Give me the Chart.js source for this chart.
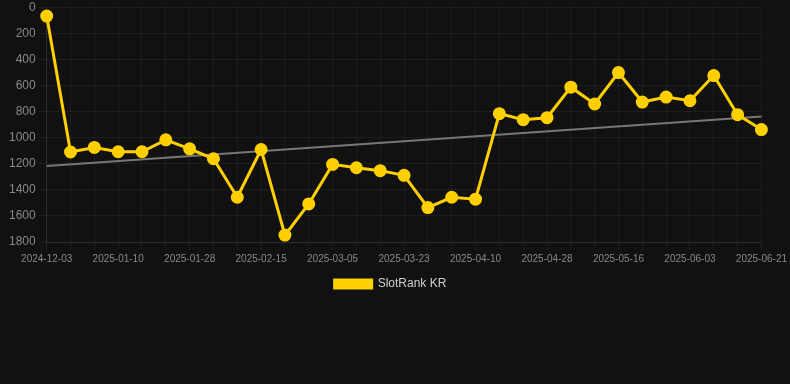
<!DOCTYPE html>
<html>
<head>
<meta charset="utf-8">
<script src="https://cdn.jsdelivr.net/npm/chart.js@4"></script>
<style>
html,body{margin:0;padding:0;background:#111111;overflow:hidden;}
#wrap{width:790px;height:303px;position:relative;margin-top:-3px;}
</style>
</head>
<body>
<div id="wrap"><canvas id="c"></canvas></div>
<script>
const categories = [
  "2024-12-03","2024-12-29","2025-01-04","2025-01-10","2025-01-16","2025-01-22",
  "2025-01-28","2025-02-03","2025-02-09","2025-02-15","2025-02-21","2025-02-27",
  "2025-03-05","2025-03-11","2025-03-17","2025-03-23","2025-03-29","2025-04-04",
  "2025-04-10","2025-04-16","2025-04-22","2025-04-28","2025-05-04","2025-05-10",
  "2025-05-16","2025-05-22","2025-05-28","2025-06-03","2025-06-09","2025-06-15",
  "2025-06-21"
];
const rankValues = [
  68,1110,1075,1108,1108,1017,1086,1162,1457,1091,
  1747,1508,1205,1231,1253,1289,1536,1457,1472,816,
  862,847,613,742,501,727,689,717,524,824,938
];
const trendStart = 1218;
const trendEnd = 837;
const yTicks = [0,200,400,600,800,1000,1200,1400,1600,1800];

const trendData = categories.map((_, i) =>
  i === 0 ? trendStart : (i === categories.length - 1 ? trendEnd : null));

new Chart(document.getElementById('c'), {
  type: 'line',
  data: {
    labels: categories,
    datasets: [
      {
        label: 'SlotRank KR',
        data: rankValues,
        borderColor: '#ffd000',
        backgroundColor: '#ffd000',
        borderWidth: 3,
        pointRadius: 5,
        pointHoverRadius: 5,
        pointBackgroundColor: '#ffd000',
        pointBorderColor: '#ffd000',
        tension: 0,
        order: 1
      },
      {
        label: 'trend',
        data: trendData,
        borderColor: '#777777',
        borderWidth: 2,
        pointRadius: 0,
        spanGaps: true,
        fill: false,
        order: 2
      }
    ]
  },
  options: {
    responsive: true,
    maintainAspectRatio: false,
    animation: false,
    layout: { padding: { left: 6, right: 15 } },
    plugins: {
      legend: {
        position: 'bottom',
        labels: {
          color: '#d0d0d0',
          font: { size: 12 },
          boxWidth: 37,
          boxHeight: 8,
          padding: 10,
          filter: (item) => item.text !== 'trend'
        }
      },
      tooltip: { enabled: false }
    },
    scales: {
      x: {
        grid: { color: 'rgba(255,255,255,0.05)', drawTicks: true },
        border: { color: 'rgba(255,255,255,0.08)' },
        ticks: {
          color: '#888888',
          font: { size: 10 },
          autoSkip: false,
          maxRotation: 0,
          callback: function(v, i) { return i % 3 === 0 ? categories[i] : ''; }
        }
      },
      y: {
        reverse: true,
        min: 0,
        max: 1800,
        afterBuildTicks: (axis) => { axis.ticks = yTicks.map(v => ({ value: v })); },
        grid: { color: 'rgba(255,255,255,0.05)' },
        border: { color: 'rgba(255,255,255,0.08)' },
        ticks: {
          color: '#888888',
          font: { size: 12 },
          callback: (v) => String(v)
        }
      }
    }
  }
});
</script>
</body>
</html>
